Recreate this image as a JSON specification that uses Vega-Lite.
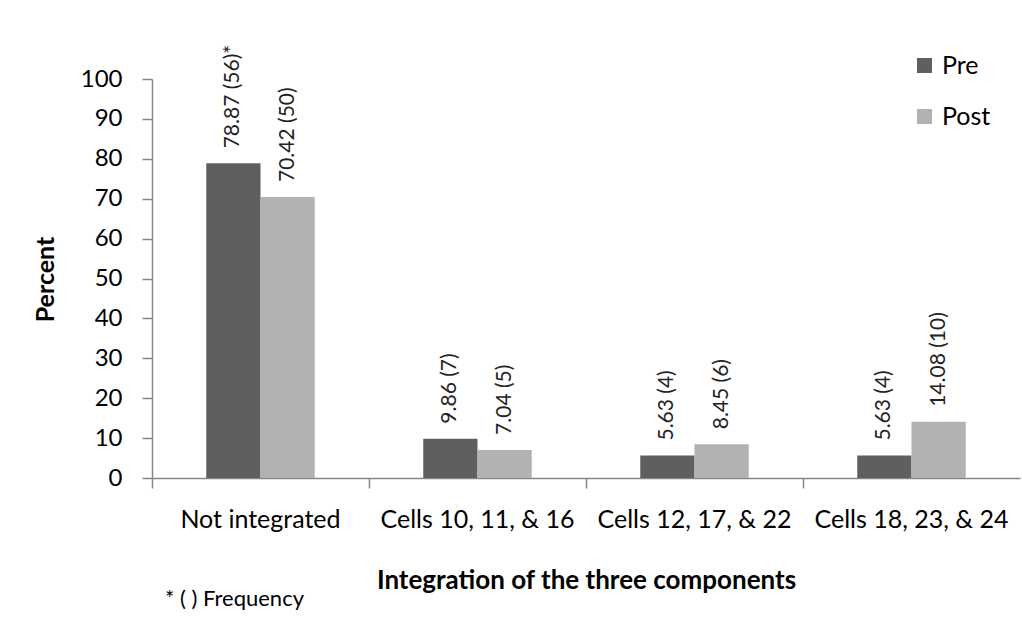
{
  "$schema": "https://vega.github.io/schema/vega-lite/v6.json",
  "width": 868,
  "height": 399,
  "autosize": "none",
  "padding": {"left": 152, "top": 79, "right": 2, "bottom": 144},
  "background": "white",
  "config": {
    "font": "Lato",
    "view": {"stroke": null},
    "axis": {"domainColor": "#868686", "tickColor": "#868686", "domainWidth": 1.5, "tickWidth": 1.5, "labelColor": "#000000", "titleColor": "#000000", "grid": false}
  },
  "title": {"text": "* ( ) Frequency", "orient": "bottom", "anchor": "start", "frame": "group", "dx": 13, "offset": -4, "fontSize": 22, "fontWeight": "normal", "color": "#000000", "font": "Lato"},
  "data": {
    "values": [
      {"category": "Not integrated", "group": "Pre", "percent": 78.87, "label": "78.87 (56)*"},
      {"category": "Not integrated", "group": "Post", "percent": 70.42, "label": "70.42 (50)"},
      {"category": "Cells 10, 11, & 16", "group": "Pre", "percent": 9.86, "label": "9.86 (7)"},
      {"category": "Cells 10, 11, & 16", "group": "Post", "percent": 7.04, "label": "7.04 (5)"},
      {"category": "Cells 12, 17, & 22", "group": "Pre", "percent": 5.63, "label": "5.63 (4)"},
      {"category": "Cells 12, 17, & 22", "group": "Post", "percent": 8.45, "label": "8.45 (6)"},
      {"category": "Cells 18, 23, & 24", "group": "Pre", "percent": 5.63, "label": "5.63 (4)"},
      {"category": "Cells 18, 23, & 24", "group": "Post", "percent": 14.08, "label": "14.08 (10)"}
    ]
  },
  "encoding": {
    "x": {
      "field": "category", "type": "nominal", "sort": null,
      "scale": {"paddingInner": 0, "paddingOuter": 0},
      "axis": {"title": "Integration of the three components", "labelAngle": 0, "labelFontSize": 25, "labelLimit": 0, "labelOverlap": false, "titleFontSize": 26, "titleFontWeight": "bold", "tickSize": 10, "bandPosition": 0, "labelPadding": 19, "titleY": 102, "titleBaseline": "middle"}
    },
    "xOffset": {"field": "group", "type": "nominal", "sort": ["Pre", "Post"], "scale": {"paddingInner": 0, "paddingOuter": 1}},
    "y": {
      "field": "percent", "type": "quantitative",
      "scale": {"domain": [0, 100], "nice": false},
      "axis": {"title": "Percent", "values": [0,10,20,30,40,50,60,70,80,90,100], "labelFontSize": 24, "titleFontSize": 25, "titleFontWeight": "bold", "tickSize": 10, "labelPadding": 20, "titleX": -107, "titleY": 200, "titleAngle": 270, "titleBaseline": "middle", "titleAlign": "center"}
    }
  },
  "layer": [
    {
      "mark": {"type": "bar"},
      "encoding": {
        "color": {"field": "group", "type": "nominal", "sort": ["Pre", "Post"],
          "scale": {"domain": ["Pre", "Post"], "range": ["#5f5f5f", "#b2b2b2"]},
          "legend": {"title": null, "orient": "none", "legendX": 760, "legendY": -26, "symbolType": "square", "symbolSize": 225, "symbolStrokeWidth": 0, "labelFontSize": 25, "labelColor": "#000000", "labelOffset": 5, "rowPadding": 25}
        }
      }
    },
    {
      "mark": {"type": "text", "angle": 270, "align": "left", "baseline": "middle", "dx": 15, "fontSize": 21, "color": "#222222"},
      "encoding": {"text": {"field": "label"}}
    }
  ]
}
